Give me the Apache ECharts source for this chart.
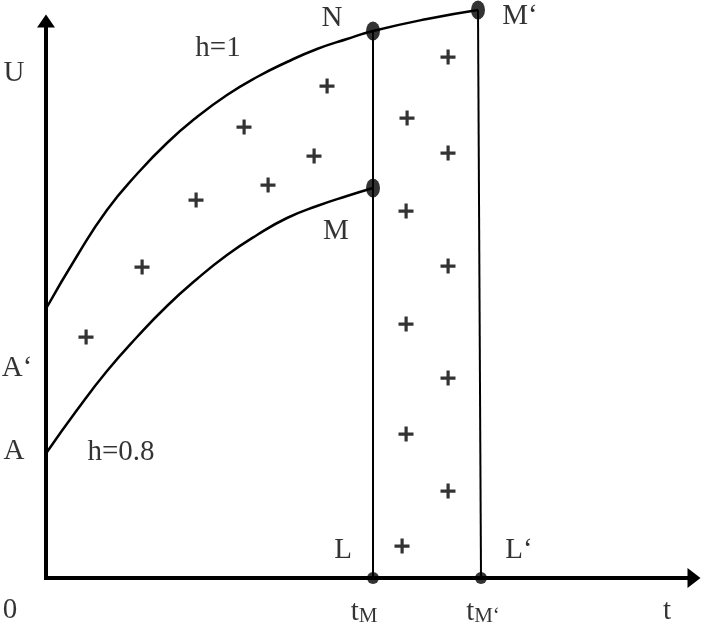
<!DOCTYPE html>
<html><head><meta charset="utf-8">
<script src="https://cdn.jsdelivr.net/npm/echarts@6/dist/echarts.min.js"></script>
<style>html,body{margin:0;padding:0;background:#fff}#c{width:703px;height:631px}</style>
</head><body><div id="c"></div>
<script>
// Data coordinates: t along the horizontal axis, U along the vertical axis (arbitrary units)
const curveH1 = [[1,271],[31,322],[61,368],[91,404],[121,435],[151,461],[181,483],[211,501],[241,516],[271,529],[301,539],[327,547],[381,559],[432,568]];
const curveH08 = [[1,126],[31,168],[61,207],[91,241],[121,272],[151,299],[181,323],[211,343],[241,360],[271,372],[301,382],[327,390]];
const lineL = [[327,0],[327,547]];
const lineL2 = [[435,0],[432,568]];
const curveDots = [[327,547],[327,390],[432,568]];
const axisDots = [[327,0],[435,0]];
const plusPoints = [[40,241],[96,311],[150,378],[198,451],[222,393],[268,422],[281,492],[361,460],[360,367],
  [402,521],[402,425],[402,312],[360,254],[402,200],[360,144],[402,87],[356,32]];
const labelTexts = ['U','h=1','N','M‘','M','A‘','A','h=0.8','L','L‘','0','{t|t}{s|M}','{t|t}{s|M‘}','t'];
const labelAt = [[-32,505],[172,530],[286,560],[474,562],[290,347],[-29,210],[-32,127],[75,126],[297,28],[473,28],[-36,-32],[318,-34],[437,-34],[621,-33]];

const FONT = 'Liberation Serif';
const chart = echarts.init(document.getElementById('c'), null, {renderer:'canvas'});
const blackLine = (w) => ({color:'#000', width:w});
chart.setOption({
  animation:false,
  backgroundColor:'#fff',
  grid:{left:46, top:21, right:9, bottom:53},
  xAxis:{type:'value', min:0, max:648,
    axisLine:{onZero:false, symbol:['none','triangle'], symbolSize:[20,13], lineStyle:{color:'#000', width:4, cap:'square'}},
    axisTick:{show:false}, axisLabel:{show:false}, splitLine:{show:false}},
  yAxis:{type:'value', min:0, max:557,
    axisLine:{onZero:false, symbol:['none','triangle'], symbolSize:[18,13], lineStyle:{color:'#000', width:4, cap:'square'}},
    axisTick:{show:false}, axisLabel:{show:false}, splitLine:{show:false}},
  series:[
    {type:'line', data:curveH1, smooth:0.5, showSymbol:false, clip:false, lineStyle:blackLine(2.5), z:3},
    {type:'line', data:curveH08, smooth:0.5, showSymbol:false, clip:false, lineStyle:blackLine(2.5), z:3},
    {type:'line', data:lineL, showSymbol:false, clip:false, lineStyle:blackLine(2), z:3},
    {type:'line', data:lineL2, showSymbol:false, clip:false, lineStyle:blackLine(2), z:3},
    {type:'scatter', data:curveDots, symbol:'circle', symbolSize:[14,19], clip:false, itemStyle:{color:'#000'}, z:5},
    {type:'scatter', data:axisDots, symbol:'circle', symbolSize:12, clip:false, itemStyle:{color:'#000'}, z:5},
    {type:'scatter', data:plusPoints, symbol:'path://M6,0H9.2V6H15V9.2H9.2V15H6V9.2H0V6H6Z', symbolSize:15, clip:false, itemStyle:{color:'#000'}, z:4},
    {type:'scatter', clip:false, symbolSize:0, itemStyle:{color:'transparent'}, z:6,
      data: labelTexts.map((s,i)=>({name:s, value:labelAt[i]})),
      label:{show:true, position:'inside', formatter:(p)=>p.name, color:'#000', fontFamily:FONT, fontSize:29,
        align:'center', verticalAlign:'middle',
        rich:{t:{fontFamily:FONT, fontSize:29, lineHeight:29, color:'#000'},
              s:{fontFamily:FONT, fontSize:21, lineHeight:10, verticalAlign:'bottom', color:'#000'}}}}
  ]
});
</script></body></html>
